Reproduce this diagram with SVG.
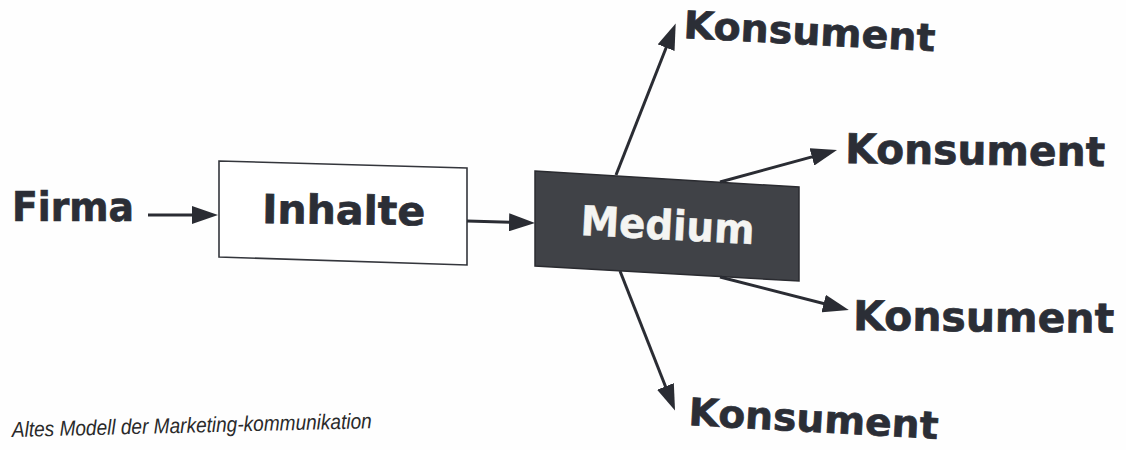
<svg xmlns="http://www.w3.org/2000/svg" width="1126" height="450" viewBox="0 0 1126 450">
  <style>
    .lbl { font-family: "DejaVu Sans", Verdana, sans-serif; font-weight: bold; fill: #2b2e36; stroke: #2b2e36; stroke-width: 0.7; }
    .med { font-family: "DejaVu Sans", Verdana, sans-serif; font-weight: bold; fill: #f4f4f2; stroke: #f4f4f2; stroke-width: 0.5; }
    .cap { font-family: "Liberation Sans", Arial, sans-serif; font-style: italic; fill: #2a2a2a; }
    .conn { stroke: #2a2c33; stroke-width: 3; fill: none; marker-end: url(#arr); }
  </style>
  <defs>
    <marker id="arr" markerUnits="userSpaceOnUse" viewBox="0 0 26 18" refX="20" refY="9" markerWidth="26" markerHeight="18" orient="auto">
      <path d="M0,0 L26,9 L0,18 z" fill="#2a2c33"/>
    </marker>
  </defs>
  <rect width="1126" height="450" fill="#fefefe"/>

  <g id="firma">
    <text class="lbl" x="12" y="221" font-size="40" textLength="122" lengthAdjust="spacingAndGlyphs">Firma</text>
  </g>
  <g id="inhalte">
    <polygon points="219,161 467,168 467,265 219,257" fill="#ffffff" stroke="#34363c" stroke-width="1.6"/>
    <text class="lbl" x="262" y="223" font-size="40" textLength="163" lengthAdjust="spacingAndGlyphs" transform="rotate(0.8 262 223)">Inhalte</text>
  </g>
  <g id="medium">
    <polygon points="535,171 799,187 799,281 535,266" fill="#404247" stroke="#2a2b30" stroke-width="1.5"/>
    <text class="med" x="580" y="235" font-size="41" textLength="174" lengthAdjust="spacingAndGlyphs" transform="rotate(3 580 235)">Medium</text>
  </g>
  <g id="konsument1">
    <text class="lbl" x="683" y="38" font-size="38" textLength="252" lengthAdjust="spacingAndGlyphs" transform="rotate(3 683 38)">Konsument</text>
  </g>
  <g id="konsument2">
    <text class="lbl" x="845" y="163" font-size="41" textLength="260" lengthAdjust="spacingAndGlyphs" transform="rotate(0.7 845 163)">Konsument</text>
  </g>
  <g id="konsument3">
    <text class="lbl" x="853" y="330" font-size="41" textLength="261" lengthAdjust="spacingAndGlyphs" transform="rotate(0.6 853 330)">Konsument</text>
  </g>
  <g id="konsument4">
    <text class="lbl" x="688" y="425" font-size="38" textLength="250" lengthAdjust="spacingAndGlyphs" transform="rotate(3.2 688 425)">Konsument</text>
  </g>

  <g id="connectors">
    <line class="conn" x1="148" y1="215" x2="212" y2="215"/>
    <line class="conn" x1="467" y1="221" x2="529" y2="222.8"/>
    <line class="conn" x1="616" y1="175" x2="673.5" y2="29"/>
    <line class="conn" x1="720" y1="182" x2="831.2" y2="151.6"/>
    <line class="conn" x1="720" y1="277" x2="843" y2="308.5"/>
    <line class="conn" x1="620" y1="271" x2="672.8" y2="405"/>
  </g>

  <g id="caption">
    <text class="cap" x="12" y="437" font-size="21.5" textLength="360" lengthAdjust="spacingAndGlyphs" transform="rotate(-1.4 12 437)">Altes Modell der Marketing-kommunikation</text>
  </g>
</svg>
